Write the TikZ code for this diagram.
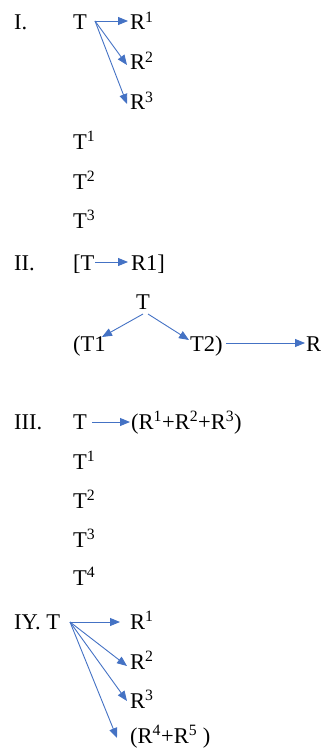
\documentclass[tikz,border=0pt]{standalone}
\usepackage{fontspec}
\setmainfont{Liberation Serif}
\usetikzlibrary{arrows.meta}
\definecolor{arrblue}{HTML}{4472C4}
\tikzset{
  txt/.style={anchor=base west, inner sep=0pt, font=\fontsize{22.5}{26}\selectfont, text=black},
  arr/.style={draw=arrblue, line width=0.9pt, -{Triangle[length=10pt,width=8pt]}}
}
\begin{document}
\begin{tikzpicture}[x=1pt,y=-1pt]
\useasboundingbox (0,0) rectangle (322,749);
% ---- I ----
\node[txt] (lI) at (14,30) {I.};
\node[txt] (tI) at (73,30) {T};
\node[txt] (r1I) at (130,30) {R\textsuperscript{1}};
\node[txt] (r2I) at (130,70) {R\textsuperscript{2}};
\node[txt] (r3I) at (130,110) {R\textsuperscript{3}};
\node[txt] (t1I) at (73,149) {T\textsuperscript{1}};
\node[txt] (t2I) at (73,189) {T\textsuperscript{2}};
\node[txt] (t3I) at (73,228) {T\textsuperscript{3}};
\coordinate (sI) at (95,21);
\coordinate (e1I) at (128,21);
\coordinate (e2I) at (127,65);
\coordinate (e3I) at (127,104);
\draw[arr] (sI) -- (e1I);
\draw[arr] (sI) -- (e2I);
\draw[arr] (sI) -- (e3I);
% ---- II ----
\node[txt] (lII) at (14,270) {II.};
\node[txt] (tII) at (73,270) {[T};
\node[txt] (rII) at (131,270) {R1]};
\coordinate (sII) at (95,262);
\coordinate (eII) at (128,262);
\draw[arr] (sII) -- (eII);
\node[txt] (ttop) at (136,309) {T};
\node[txt] (tt1) at (73,351) {(T1};
\node[txt] (tt2) at (190,351) {T2)};
\node[txt] (rr) at (306,351) {R};
\coordinate (sa) at (143,314);
\coordinate (ea) at (102,337);
\coordinate (sb) at (148,314);
\coordinate (eb) at (189,340);
\coordinate (sc) at (226,343);
\coordinate (ec) at (305,343);
\draw[arr] (sa) -- (ea);
\draw[arr] (sb) -- (eb);
\draw[arr] (sc) -- (ec);
% ---- III ----
\node[txt] (lIII) at (14,429) {III.};
\node[txt] (tIII) at (73,429) {T};
\node[txt] (rIII) at (131,429) {(R\textsuperscript{1}+R\textsuperscript{2}+R\textsuperscript{3})};
\coordinate (sIII) at (92,422);
\coordinate (eIII) at (130,422);
\draw[arr] (sIII) -- (eIII);
\node[txt] (t1III) at (73,469) {T\textsuperscript{1}};
\node[txt] (t2III) at (73,508) {T\textsuperscript{2}};
\node[txt] (t3III) at (73,547) {T\textsuperscript{3}};
\node[txt] (t4III) at (73,585) {T\textsuperscript{4}};
% ---- IY ----
\node[txt] (lIV) at (14,629) {IY. T};
\node[txt] (r1IV) at (130,629) {R\textsuperscript{1}};
\node[txt] (r2IV) at (130,669) {R\textsuperscript{2}};
\node[txt] (r3IV) at (130,708) {R\textsuperscript{3}};
\node[txt] (r45IV) at (130,743) {(R\textsuperscript{4}+R\textsuperscript{5} )};
\coordinate (sIV) at (70,622);
\coordinate (e1IV) at (120,622);
\coordinate (e2IV) at (127,666);
\coordinate (e3IV) at (127,701);
\coordinate (e4IV) at (117,738);
\draw[arr] (sIV) -- (e1IV);
\draw[arr] (sIV) -- (e2IV);
\draw[arr] (sIV) -- (e3IV);
\draw[arr] (sIV) -- (e4IV);
\end{tikzpicture}
\end{document}
